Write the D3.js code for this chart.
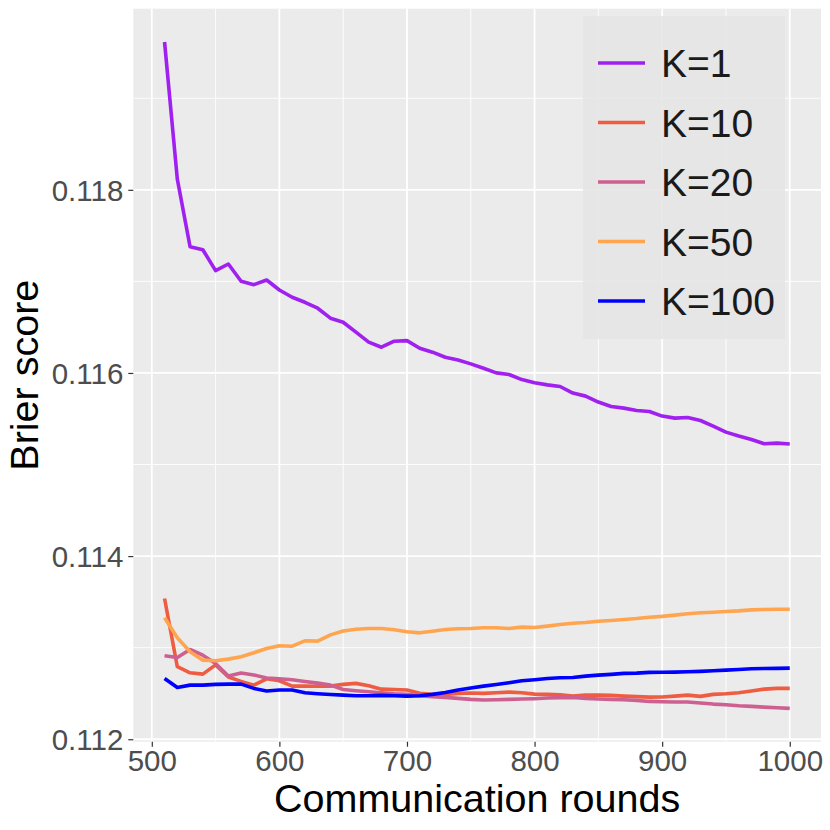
<!DOCTYPE html>
<html>
<head>
<meta charset="utf-8">
<script src="https://cdn.jsdelivr.net/npm/d3@7"></script>
<style>
  html, body { margin: 0; padding: 0; background: #fff; }
  svg { display: block; font-family: "Liberation Sans", Arial, sans-serif; }
</style>
</head>
<body>
<svg id="chart" width="830" height="830"></svg>
<script>
// Brier score per communication round, one series per K
const rounds = d3.range(510, 1001, 10);

const k1 = [
  0.119614, 0.118117, 0.117378, 0.117346, 0.117117, 0.117190, 0.117001, 0.116964, 0.117015, 0.116906,
  0.116827, 0.116772, 0.116707, 0.116598, 0.116554, 0.116445, 0.116336, 0.116281, 0.116347, 0.116353,
  0.116270, 0.116227, 0.116172, 0.116142, 0.116099, 0.116052, 0.116001, 0.115983, 0.115928, 0.115892,
  0.115870, 0.115852, 0.115780, 0.115747, 0.115682, 0.115634, 0.115616, 0.115590, 0.115579, 0.115529,
  0.115507, 0.115514, 0.115481, 0.115420, 0.115354, 0.115311, 0.115274, 0.115227, 0.115234, 0.115224,
];
const k10 = [
  0.113537, 0.112792, 0.112726, 0.112711, 0.112812, 0.112680, 0.112632, 0.112591, 0.112660, 0.112639,
  0.112580, 0.112580, 0.112578, 0.112580, 0.112599, 0.112610, 0.112584, 0.112547, 0.112544, 0.112537,
  0.112501, 0.112490, 0.112490, 0.112501, 0.112505, 0.112501, 0.112508, 0.112515, 0.112508, 0.112493,
  0.112490, 0.112486, 0.112471, 0.112482, 0.112482, 0.112479, 0.112471, 0.112465, 0.112460, 0.112462,
  0.112471, 0.112482, 0.112468, 0.112490, 0.112497, 0.112508, 0.112526, 0.112547, 0.112555, 0.112555,
];
const k20 = [
  0.112912, 0.112893, 0.112980, 0.112918, 0.112828, 0.112691, 0.112724, 0.112702, 0.112669, 0.112661,
  0.112650, 0.112631, 0.112613, 0.112591, 0.112544, 0.112530, 0.112519, 0.112508, 0.112497, 0.112490,
  0.112475, 0.112465, 0.112457, 0.112446, 0.112435, 0.112428, 0.112432, 0.112435, 0.112439, 0.112443,
  0.112450, 0.112454, 0.112457, 0.112446, 0.112439, 0.112435, 0.112432, 0.112424, 0.112413, 0.112410,
  0.112406, 0.112406, 0.112395, 0.112384, 0.112377, 0.112366, 0.112359, 0.112351, 0.112344, 0.112337,
];
const k50 = [
  0.113326, 0.113108, 0.112955, 0.112864, 0.112857, 0.112875, 0.112901, 0.112944, 0.112991, 0.113021,
  0.113016, 0.113075, 0.113071, 0.113140, 0.113182, 0.113202, 0.113209, 0.113209, 0.113195, 0.113173,
  0.113162, 0.113180, 0.113198, 0.113206, 0.113209, 0.113217, 0.113217, 0.113210, 0.113224, 0.113220,
  0.113235, 0.113253, 0.113267, 0.113275, 0.113289, 0.113297, 0.113308, 0.113318, 0.113333, 0.113342,
  0.113355, 0.113370, 0.113381, 0.113387, 0.113395, 0.113402, 0.113413, 0.113417, 0.113420, 0.113420,
];
const k100 = [
  0.112664, 0.112566, 0.112591, 0.112591, 0.112599, 0.112602, 0.112602, 0.112555, 0.112526, 0.112537,
  0.112537, 0.112508, 0.112497, 0.112488, 0.112482, 0.112475, 0.112475, 0.112479, 0.112475, 0.112471,
  0.112475, 0.112490, 0.112511, 0.112537, 0.112559, 0.112580, 0.112598, 0.112617, 0.112639, 0.112650,
  0.112664, 0.112672, 0.112675, 0.112689, 0.112700, 0.112708, 0.112719, 0.112722, 0.112730, 0.112732,
  0.112733, 0.112737, 0.112741, 0.112748, 0.112755, 0.112762, 0.112770, 0.112773, 0.112774, 0.112777,
];

const seriesNames = ["K=1", "K=10", "K=20", "K=50", "K=100"];
const seriesValues = [k1, k10, k20, k50, k100];
const seriesColors = ["#A020F0", "#EE5C42", "#CD6090", "#FFA54F", "#0000FF"];

const xTicks = [500, 600, 700, 800, 900, 1000];
const yTicks = [0.112, 0.114, 0.116, 0.118];

const panel = { left: 133.3, right: 821, top: 8.7, bottom: 741.7 };

const svg = d3.select("#chart");

// ggplot-style 5% expansion on both axes
const xExt = d3.extent(rounds);
const xPad = (xExt[1] - xExt[0]) * 0.05;
const allY = seriesValues.flat();
const yExt = d3.extent(allY);
const yPad = (yExt[1] - yExt[0]) * 0.05;

const x = d3.scaleLinear()
  .domain([xExt[0] - xPad, xExt[1] + xPad])
  .range([panel.left, panel.right]);
const y = d3.scaleLinear()
  .domain([yExt[0] - yPad, yExt[1] + yPad])
  .range([panel.bottom, panel.top]);

// panel background
svg.append("rect")
  .attr("x", panel.left).attr("y", panel.top)
  .attr("width", panel.right - panel.left)
  .attr("height", panel.bottom - panel.top)
  .attr("fill", "#EBEBEB");

const grid = svg.append("g");
const xMinor = xTicks.slice(0, -1).map((t) => t + 50).filter((t) => t > x.domain()[0] && t < x.domain()[1]);
const yMinor = yTicks.map((t) => t + 0.001).filter((t) => t > y.domain()[0] && t < y.domain()[1]);

grid.selectAll("line.xminor").data(xMinor).join("line")
  .attr("x1", (d) => x(d)).attr("x2", (d) => x(d))
  .attr("y1", panel.top).attr("y2", panel.bottom)
  .attr("stroke", "#fff").attr("stroke-width", 0.9);
grid.selectAll("line.yminor").data(yMinor).join("line")
  .attr("y1", (d) => y(d)).attr("y2", (d) => y(d))
  .attr("x1", panel.left).attr("x2", panel.right)
  .attr("stroke", "#fff").attr("stroke-width", 0.9);
grid.selectAll("line.xmajor").data(xTicks).join("line")
  .attr("x1", (d) => x(d)).attr("x2", (d) => x(d))
  .attr("y1", panel.top).attr("y2", panel.bottom)
  .attr("stroke", "#fff").attr("stroke-width", 1.8);
grid.selectAll("line.ymajor").data(yTicks).join("line")
  .attr("y1", (d) => y(d)).attr("y2", (d) => y(d))
  .attr("x1", panel.left).attr("x2", panel.right)
  .attr("stroke", "#fff").attr("stroke-width", 1.8);

// series lines
const line = d3.line()
  .x((d, i) => x(rounds[i]))
  .y((d) => y(d));

svg.append("g").selectAll("path").data(seriesValues).join("path")
  .attr("d", line)
  .attr("fill", "none")
  .attr("stroke", (d, i) => seriesColors[i])
  .attr("stroke-width", 3.6)
  .attr("stroke-linejoin", "round");

// axes
const xAxis = svg.append("g")
  .attr("transform", `translate(0,${panel.bottom})`)
  .call(d3.axisBottom(x).tickValues(xTicks).tickSize(5).tickPadding(3).tickFormat(d3.format("d")));
const yAxis = svg.append("g")
  .attr("transform", `translate(${panel.left},0)`)
  .call(d3.axisLeft(y).tickValues(yTicks).tickSize(5).tickPadding(5).tickFormat(d3.format(".3f")));

[xAxis, yAxis].forEach((a) => {
  a.select(".domain").remove();
  a.selectAll(".tick line").attr("stroke", "#333").attr("stroke-width", 1.2);
  a.selectAll(".tick text")
    .attr("fill", "#4D4D4D")
    .style("font-size", "29.5px")
    .style("font-family", "'Liberation Sans', Arial, sans-serif");
});
yAxis.selectAll(".tick text").attr("dy", "0.36em");

svg.append("text")
  .attr("x", (panel.left + panel.right) / 2)
  .attr("y", 812)
  .attr("text-anchor", "middle")
  .attr("fill", "#000")
  .style("font-size", "39.5px")
  .text("Communication rounds");

svg.append("text")
  .attr("transform", `translate(38,${(panel.top + panel.bottom) / 2}) rotate(-90)`)
  .attr("text-anchor", "middle")
  .attr("fill", "#000")
  .style("font-size", "39.5px")
  .text("Brier score");

// legend inside the panel, top right
const legend = svg.append("g");
legend.append("rect")
  .attr("x", 583).attr("y", 16)
  .attr("width", 202).attr("height", 323)
  .attr("fill", "#E5E5E5").attr("fill-opacity", 0.9);

const rowY = d3.scalePoint().domain(seriesNames).range([63, 301]);
const rows = legend.selectAll("g.row").data(seriesNames).join("g")
  .attr("transform", (d) => `translate(0,${rowY(d)})`);
rows.append("line")
  .attr("x1", 598).attr("x2", 645)
  .attr("stroke", (d, i) => seriesColors[i])
  .attr("stroke-width", 3.4);
rows.append("text")
  .attr("x", 661)
  .attr("dy", "0.36em")
  .attr("fill", "#1A1A1A")
  .style("font-size", "39px")
  .text((d) => d);
</script>
</body>
</html>
